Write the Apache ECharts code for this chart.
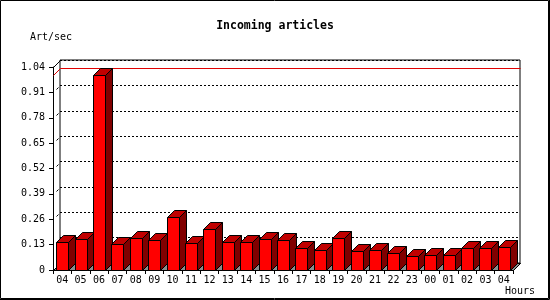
<!DOCTYPE html>
<html>
<head>
<meta charset="utf-8">
<script src="https://cdn.jsdelivr.net/npm/echarts@6/dist/echarts.min.js"></script>
<style>html,body{margin:0;padding:0;background:#fff}#c{width:550px;height:300px}</style>
</head>
<body>
<div id="c"></div>
<script>
const titleText = 'Incoming articles';
const yName = 'Art/sec';
const xName = 'Hours';
const categories = ['04','05','06','07','08','09','10','11','12','13','14','15','16','17','18','19','20','21','22','23','00','01','02','03','04'];
const values = [0.142,0.157,1.00,0.131,0.162,0.152,0.270,0.137,0.208,0.142,0.142,0.157,0.152,0.111,0.101,0.162,0.096,0.101,0.085,0.070,0.075,0.075,0.111,0.111,0.116];
const yMin = 0, yMax = 1.04, yStep = 0.13;

const FONT = 'DejaVu Sans Mono';
const D = 7; // 3D depth offset
const maxVal = Math.max(...values);

function px(v){ return Math.round(v) + 0.5; }

const chart = echarts.init(document.getElementById('c'), null, {renderer:'canvas'});

const yAxisBase = {type:'value', min:yMin, max:yMax, interval:yStep};

chart.setOption({
  animation:false,
  backgroundColor:'#fff',
  title:{text:titleText, left:'center', top:20, padding:0,
    textStyle:{fontFamily:FONT, fontWeight:'bold', fontSize:11.5, color:'#000'}},
  grid:[
    {left:53, right:37, top:67, bottom:30, containLabel:false},
    {left:60, right:30, top:60, bottom:37, containLabel:false, show:true, borderColor:'#000', borderWidth:1, backgroundColor:'transparent'}
  ],
  xAxis:[
    {type:'category', gridIndex:0, data:categories, boundaryGap:true,
      axisLine:{show:true, lineStyle:{color:'#000', width:1}},
      axisTick:{show:true, length:4, lineStyle:{color:'#000'}},
      axisLabel:{fontFamily:FONT, fontSize:10, color:'#000', margin:5, interval:0},
      splitLine:{show:false}},
    {type:'category', gridIndex:1, data:categories, show:false}
  ],
  yAxis:[
    Object.assign({}, yAxisBase, {gridIndex:0,
      axisLine:{show:true, lineStyle:{color:'#000', width:1}},
      axisTick:{show:true, length:4, lineStyle:{color:'#000'}},
      axisLabel:{fontFamily:FONT, fontSize:10, color:'#000', margin:8,
        formatter:v => v === 0 ? '0' : v.toFixed(2)},
      splitLine:{show:false}}),
    Object.assign({}, yAxisBase, {gridIndex:1,
      axisLine:{show:false}, axisTick:{show:false}, axisLabel:{show:false},
      splitLine:{show:true, lineStyle:{color:'#000', width:1, type:[2,2]}}})
  ],
  graphic:[
    {type:'rect', shape:{x:0.5, y:0.5, width:548, height:298}, style:{fill:null, stroke:'#000', lineWidth:1}, silent:true},
    {type:'polyline', shape:{points:[[549.5,0],[549.5,299.5],[0,299.5]]}, style:{fill:null, stroke:'#000', lineWidth:1}, silent:true},
    {type:'text', left:30, top:32, style:{text:yName, fontFamily:FONT, fontSize:10, fill:'#000'}},
    {type:'text', left:505, top:286, style:{text:xName, fontFamily:FONT, fontSize:10, fill:'#000'}}
  ],
  series:[
    { // floor
      type:'custom', xAxisIndex:0, yAxisIndex:0, z:1, silent:true,
      data:[[0, 0]],
      renderItem:function(params, api){
        const cs = params.coordSys;
        const l = px(cs.x), r = px(cs.x + cs.width), b = px(cs.y + cs.height);
        return {type:'polygon', shape:{points:[[l,b],[r,b],[r+D,b-D],[l+D,b-D]]},
          style:{fill:'#8c8c8c', stroke:'#000', lineWidth:1}};
      }
    },
    { // bars
      type:'custom', xAxisIndex:0, yAxisIndex:0, z:3, silent:true,
      data: values.map((v,i)=>[i,v]),
      renderItem:function(params, api){
        const i = api.value(0), v = api.value(1);
        const base = api.coord([i, 0]);
        const top = api.coord([i, v]);
        const slot = api.size([1,0])[0];
        const w = Math.round(slot*0.65);
        const x0 = px(base[0] - w/2), x1 = x0 + w;
        const yb = px(base[1]), yt = px(top[1]);
        const st = {stroke:'#000', lineWidth:1};
        return {type:'group', children:[
          {type:'polygon', shape:{points:[[x1,yb],[x1,yt],[x1+D,yt-D],[x1+D,yb-D]]}, style:Object.assign({fill:'#800000'}, st)},
          {type:'polygon', shape:{points:[[x0,yt],[x1,yt],[x1+D,yt-D],[x0+D,yt-D]]}, style:Object.assign({fill:'#c00000'}, st)},
          {type:'rect', shape:{x:x0, y:yt, width:w, height:yb-yt}, style:Object.assign({fill:'#ff0000'}, st)}
        ]};
      }
    },
    { // frame: max line, box edges, tick connectors
      type:'custom', xAxisIndex:0, yAxisIndex:0, z:2, silent:true,
      data:[[0, maxVal]],
      renderItem:function(params, api){
        const cs = params.coordSys;
        const l = px(cs.x), r = px(cs.x + cs.width), t = px(cs.y), b = px(cs.y + cs.height);
        const ym = px(api.coord([0, api.value(1)])[1]);
        const kids = [
          {type:'polyline', shape:{points:[[l,ym],[l+D,ym-D],[r+D,ym-D]]}, style:{fill:null, stroke:'#e00000', lineWidth:1}},
          {type:'line', shape:{x1:l, y1:t, x2:l+D, y2:t-D}, style:{stroke:'#000', lineWidth:1}},
          {type:'line', shape:{x1:r, y1:b, x2:r+D, y2:b-D}, style:{stroke:'#000', lineWidth:1}}
        ];
        for (let k = 1; k * yStep < yMax - 1e-9; k++) {
          const y = px(api.coord([0, k*yStep])[1]);
          kids.push({type:'line', shape:{x1:l+3, y1:y-3, x2:l+5, y2:y-5}, style:{stroke:'#000', lineWidth:1}});
        }
        return {type:'group', children:kids};
      }
    }
  ]
});
</script>
</body>
</html>
